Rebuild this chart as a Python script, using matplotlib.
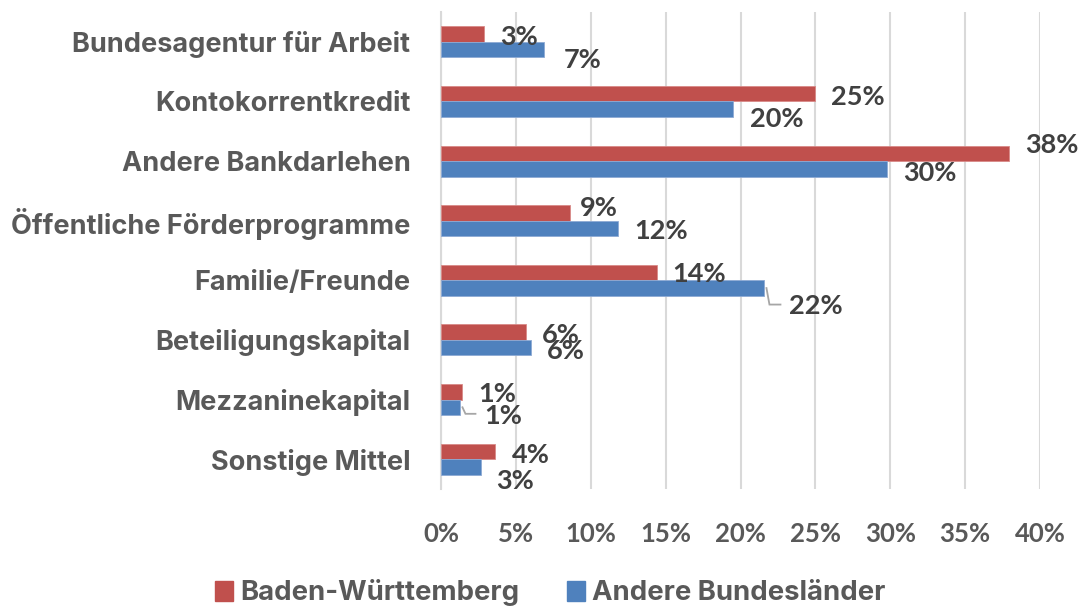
import matplotlib
matplotlib.use("Agg")
import matplotlib.pyplot as plt
import numpy as np
from matplotlib.ticker import FuncFormatter
from matplotlib.patches import Patch
from matplotlib.transforms import offset_copy

categories = ["Bundesagentur für Arbeit", "Kontokorrentkredit", "Andere Bankdarlehen",
              "Öffentliche Förderprogramme", "Familie/Freunde", "Beteiligungskapital",
              "Mezzaninekapital", "Sonstige Mittel"]
bw_values = [2.9, 25.0, 37.9, 8.6, 14.4, 5.7, 1.4, 3.6]
other_values = [6.9, 19.5, 29.8, 11.8, 21.6, 6.0, 1.3, 2.7]
bw_labels = ["3%", "25%", "38%", "9%", "14%", "6%", "1%", "4%"]
other_labels = ["7%", "20%", "30%", "12%", "22%", "6%", "1%", "3%"]
series_names = ["Baden-Württemberg", "Andere Bundesländer"]
xticks = [0, 5, 10, 15, 20, 25, 30, 35, 40]

# label placement in pixels: dx from bar end, dy of text centre from bar centre (down positive)
bw_off = [(16, 1), (16, 1.5), (17, -10.5), (10, -7), (16, 0), (16, 1), (16, 0), (17, 1.5)]
other_off = [(19, 8.5), (17, 8), (16, 2), (17, 1), (25, 16.5), (16, 2), (24, 6.5), (15, 12)]
leader = [False, False, False, False, True, False, True, False]

RED = "#C0504D"
BLUE = "#4F81BD"
NUM_FONT = ["Lato", "DejaVu Sans"]
TXT_FONT = ["Inter", "DejaVu Sans"]

W, H = 1079, 608
fig = plt.figure(figsize=(W / 100, H / 100), dpi=100)
ax = fig.add_axes([441 / W, 1 - 489 / H, (1040 - 441) / W, (489 - 12) / H])

n = len(categories)
y = np.arange(n)
bh = 0.26
ax.barh(y - bh / 2, bw_values, height=bh, color=RED, edgecolor="#D98A88", linewidth=0.6, zorder=3)
ax.barh(y + bh / 2, other_values, height=bh, color=BLUE, edgecolor="#8EAAD4", linewidth=0.6, zorder=3)

ax.set_xlim(0, 40)
ax.set_ylim(n - 0.5, -0.5)
ax.set_xticks(xticks)
ax.xaxis.set_major_formatter(FuncFormatter(lambda v, p: f"{int(v)}%"))
ax.grid(axis="x", color="#D9D9D9", linewidth=1.5, zorder=0)
for s in ["top", "right", "bottom"]:
    ax.spines[s].set_visible(False)
ax.spines["left"].set_color("#D9D9D9")
ax.spines["left"].set_linewidth(1.5)
ax.tick_params(axis="both", length=0)
ax.tick_params(axis="x", pad=24)
ax.tick_params(axis="y", pad=22)
ax.set_yticks(y)
ax.set_yticklabels(categories, fontfamily=TXT_FONT, fontweight="bold", fontsize=19.5, color="#595959")
for lab in ax.get_xticklabels():
    lab.set_fontfamily(NUM_FONT)
    lab.set_fontweight("bold")
    lab.set_fontsize(18.5)
    lab.set_color("#595959")

LABEL_FS = 19.5
half_digit = 0.72 * LABEL_FS * 100 / 72 / 2  # half digit height in pixels

for i in range(n):
    for vals, labs, offs, yy, is_other in [(bw_values, bw_labels, bw_off, y[i] - bh / 2, False),
                                           (other_values, other_labels, other_off, y[i] + bh / 2, True)]:
        dx, dy = offs[i]
        tr = offset_copy(ax.transData, fig=fig, x=dx, y=-(dy + half_digit), units="dots")
        ax.text(vals[i], yy, labs[i], transform=tr, ha="left", va="baseline",
                fontfamily=NUM_FONT, fontweight="bold", fontsize=LABEL_FS, color="#404040",
                zorder=5, clip_on=False)
        if is_other and leader[i]:
            pts = [(2, 0), (5, dy), (dx - 9, dy)]
            base = ax.transData.transform((vals[i], yy))
            disp = [(base[0] + px, base[1] - py) for px, py in pts]
            data_pts = ax.transData.inverted().transform(disp)
            ax.plot(data_pts[:, 0], data_pts[:, 1], color="#A6A6A6", lw=1.3, zorder=4,
                    clip_on=False, solid_joinstyle="miter")

handles = [Patch(color=RED), Patch(color=BLUE)]
leg = fig.legend(handles, series_names, loc="center", bbox_to_anchor=(0.5 + 11 / W, 1 - 593 / H),
                 ncol=2, frameon=False, handlelength=0.65, handleheight=0.7, columnspacing=1.75,
                 handletextpad=0.25, borderaxespad=0,
                 prop={"family": TXT_FONT, "weight": "bold", "size": 19.8})
for t in leg.get_texts():
    t.set_color("#595959")

fig.savefig("out.png", dpi=100)
